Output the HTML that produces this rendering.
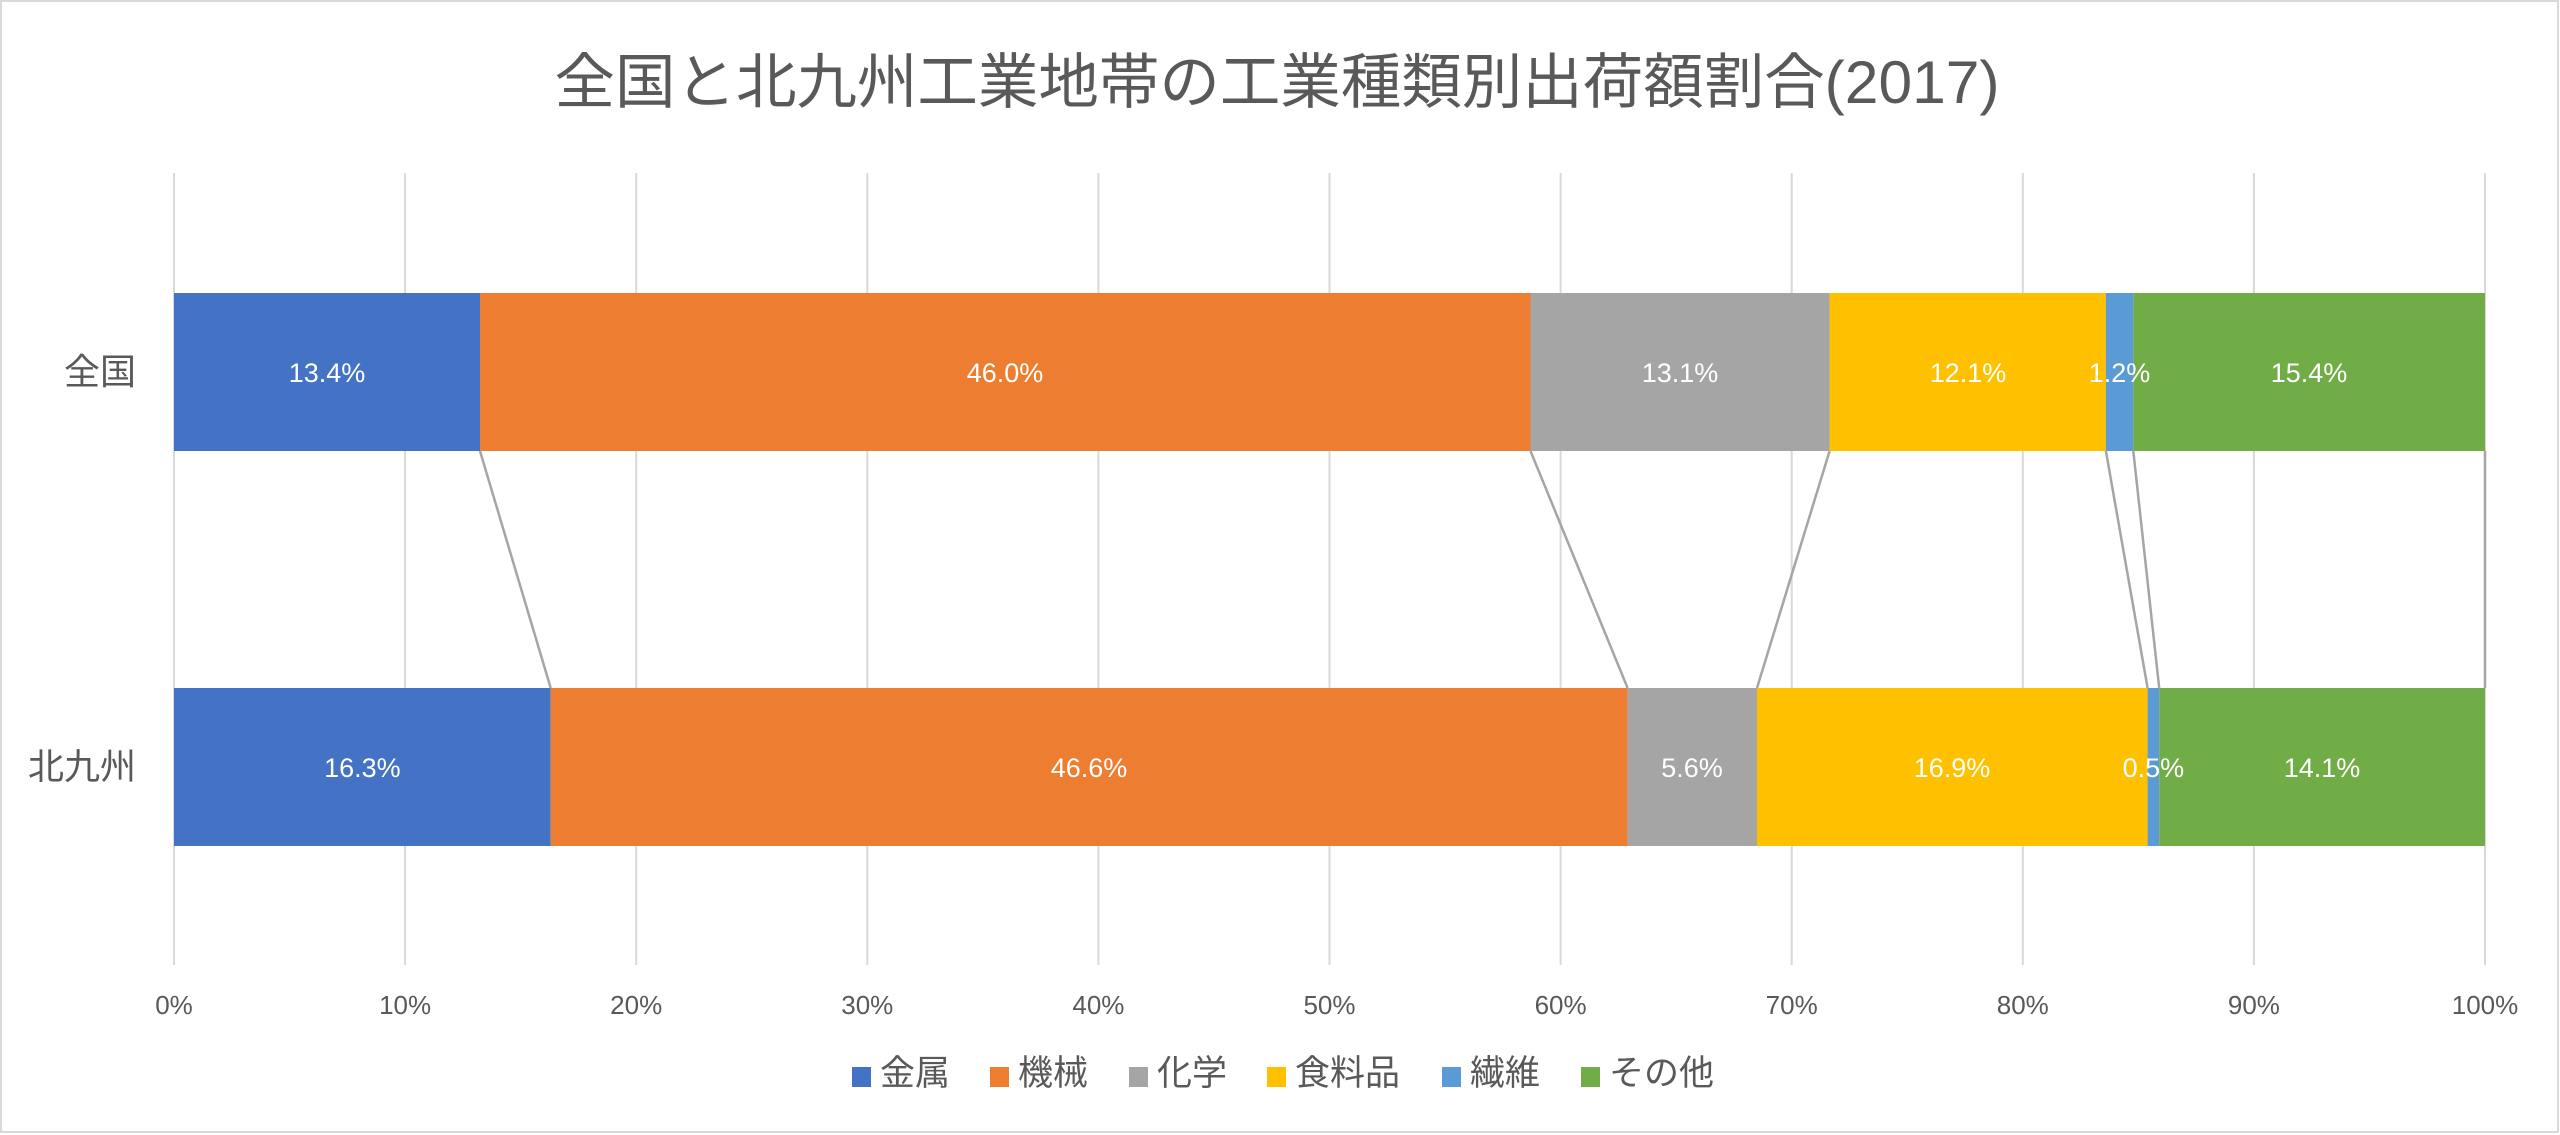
<!DOCTYPE html>
<html><head><meta charset="utf-8"><style>
html,body{margin:0;padding:0;background:#fff;}
svg{display:block;}
text{font-family:"Liberation Sans","Noto Sans CJK JP",sans-serif;}
</style></head><body>
<svg width="2560" height="1135" viewBox="0 0 2560 1135" xmlns="http://www.w3.org/2000/svg">
<rect x="1" y="1" width="2557" height="1131" fill="#fff" stroke="#d9d9d9" stroke-width="2"/>
<text x="1277" y="103" font-size="60" fill="#595959" text-anchor="middle" textLength="1445" lengthAdjust="spacingAndGlyphs">全国と北九州工業地帯の工業種類別出荷額割合(2017)</text>
<g stroke="#d9d9d9" stroke-width="2">
<line x1="174" y1="173" x2="174" y2="965"/>
<line x1="405.1" y1="173" x2="405.1" y2="965"/>
<line x1="636.2" y1="173" x2="636.2" y2="965"/>
<line x1="867.3" y1="173" x2="867.3" y2="965"/>
<line x1="1098.4" y1="173" x2="1098.4" y2="965"/>
<line x1="1329.5" y1="173" x2="1329.5" y2="965"/>
<line x1="1560.6" y1="173" x2="1560.6" y2="965"/>
<line x1="1791.7" y1="173" x2="1791.7" y2="965"/>
<line x1="2022.8" y1="173" x2="2022.8" y2="965"/>
<line x1="2253.9" y1="173" x2="2253.9" y2="965"/>
<line x1="2485" y1="173" x2="2485" y2="965"/>
</g>
<!-- bar 1 -->
<rect x="174" y="293" width="306" height="158" fill="#4472c4"/>
<rect x="480" y="293" width="1050.5" height="158" fill="#ed7d31"/>
<rect x="1530.5" y="293" width="299.1" height="158" fill="#a5a5a5"/>
<rect x="1829.6" y="293" width="276.3" height="158" fill="#ffc000"/>
<rect x="2105.9" y="293" width="27.4" height="158" fill="#5b9bd5"/>
<rect x="2133.3" y="293" width="351.7" height="158" fill="#70ad47"/>
<!-- bar 2 -->
<rect x="174" y="688" width="376.7" height="158" fill="#4472c4"/>
<rect x="550.7" y="688" width="1076.9" height="158" fill="#ed7d31"/>
<rect x="1627.6" y="688" width="129.4" height="158" fill="#a5a5a5"/>
<rect x="1757" y="688" width="390.6" height="158" fill="#ffc000"/>
<rect x="2147.6" y="688" width="11.6" height="158" fill="#5b9bd5"/>
<rect x="2159.2" y="688" width="325.8" height="158" fill="#70ad47"/>
<!-- connectors -->
<g stroke="#a5a5a5" stroke-width="2.5">
<line x1="480" y1="451" x2="550.7" y2="688"/>
<line x1="1530.5" y1="451" x2="1627.6" y2="688"/>
<line x1="1829.6" y1="451" x2="1757" y2="688"/>
<line x1="2105.9" y1="451" x2="2147.6" y2="688"/>
<line x1="2133.3" y1="451" x2="2159.2" y2="688"/>
<line x1="2485" y1="451" x2="2485" y2="688"/>
</g>
<g font-size="27" fill="#fff" text-anchor="middle">
<text x="327" y="382">13.4%</text>
<text x="1005" y="382">46.0%</text>
<text x="1680" y="382">13.1%</text>
<text x="1968" y="382">12.1%</text>
<text x="2119.5" y="382">1.2%</text>
<text x="2309" y="382">15.4%</text>
<text x="362.4" y="777">16.3%</text>
<text x="1089" y="777">46.6%</text>
<text x="1692" y="777">5.6%</text>
<text x="1952" y="777">16.9%</text>
<text x="2153.4" y="777">0.5%</text>
<text x="2322" y="777">14.1%</text>
</g>
<g font-size="36" fill="#595959" text-anchor="end">
<text x="136" y="384">全国</text>
<text x="136" y="779">北九州</text>
</g>
<g font-size="26" fill="#595959" text-anchor="middle">
<text x="174" y="1014">0%</text>
<text x="405.1" y="1014">10%</text>
<text x="636.2" y="1014">20%</text>
<text x="867.3" y="1014">30%</text>
<text x="1098.4" y="1014">40%</text>
<text x="1329.5" y="1014">50%</text>
<text x="1560.6" y="1014">60%</text>
<text x="1791.7" y="1014">70%</text>
<text x="2022.8" y="1014">80%</text>
<text x="2253.9" y="1014">90%</text>
<text x="2485" y="1014">100%</text>
</g>
<g font-size="35" fill="#595959">
<rect x="852" y="1067" width="19" height="20" fill="#4472c4"/><text x="880" y="1085">金属</text>
<rect x="990" y="1067" width="19" height="20" fill="#ed7d31"/><text x="1018" y="1085">機械</text>
<rect x="1129" y="1067" width="19" height="20" fill="#a5a5a5"/><text x="1157" y="1085">化学</text>
<rect x="1267" y="1067" width="19" height="20" fill="#ffc000"/><text x="1295" y="1085">食料品</text>
<rect x="1442" y="1067" width="19" height="20" fill="#5b9bd5"/><text x="1470" y="1085">繊維</text>
<rect x="1581" y="1067" width="19" height="20" fill="#70ad47"/><text x="1609" y="1085">その他</text>
</g>
</svg>
</body></html>
